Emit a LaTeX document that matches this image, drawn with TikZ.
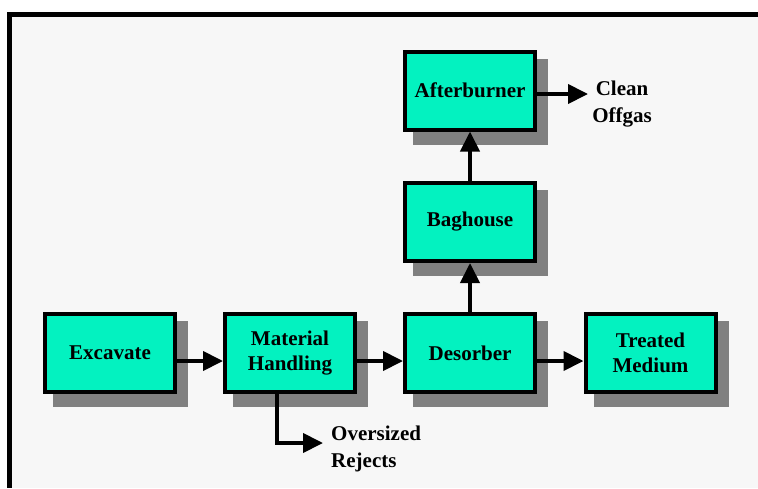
\documentclass[tikz,border=0pt]{standalone}
\usepackage{fontspec}
\setmainfont{Liberation Serif}
\usetikzlibrary{arrows.meta,backgrounds}
\definecolor{boxfill}{RGB}{3,242,192}
\definecolor{dropgray}{RGB}{128,128,128}
\definecolor{panel}{RGB}{247,247,247}

\begin{document}
\begin{tikzpicture}[x=1pt,y=-1pt,
  stage/.style={draw=black, line width=4pt, fill=boxfill,
    minimum width=130pt, minimum height=78pt, inner sep=0pt,
    align=center, font=\fontsize{21}{25}\selectfont\bfseries},
  note/.style={inner sep=0pt, font=\fontsize{21}{27}\selectfont\bfseries},
  flow/.style={line width=4pt, -{Triangle[length=20pt,width=19pt]}}]

\useasboundingbox (0,0) rectangle (758,488);

% process boxes
\node[stage] (ex) at (110,353) {Excavate};
\node[stage] (mh) at (290,353) {Material\\Handling};
\node[stage] (de) at (470,353) {Desorber};
\node[stage] (tm) at (650.5,353) {Treated\\Medium};
\node[stage] (bh) at (470,222) {Baghouse};
\node[stage] (ab) at (470,90.5) {Afterburner};

% side labels
\node[note, align=center] (off) at (622,104) {Clean\\Offgas};
\node[note, align=left, anchor=west] (rej) at (331,449) {Oversized\\Rejects};

% panel, frame and drop shadows
\begin{scope}[on background layer]
  \fill[panel] (12,17) rectangle (758,488);
  \fill[black] (7,12) rectangle (758,17);
  \fill[black] (7,12) rectangle (12,488);
  \foreach \n in {ex,mh,de,tm,bh,ab}
    \fill[dropgray] ([shift={(10,9)}]\n.north west) rectangle ([shift={(11,13)}]\n.south east);
\end{scope}

% connectors
\coordinate (lane) at (0,361);
\coordinate (offlane) at (0,94);
\coordinate (offend) at (588,94);
\coordinate (rejcorner) at (277,443);
\coordinate (rejend) at (323,443);

\draw[flow] (ex.east |- lane) -- (mh.west |- lane);
\draw[flow] (mh.east |- lane) -- (de.west |- lane);
\draw[flow] (de.east |- lane) -- (tm.west |- lane);
\draw[flow] (de.north) -- (bh.south);
\draw[flow] (bh.north) -- (ab.south);
\draw[flow] (ab.east |- offlane) -- (offend);
\draw[flow] (mh.south -| rejcorner) -- (rejcorner) -- (rejend);

\end{tikzpicture}
\end{document}
